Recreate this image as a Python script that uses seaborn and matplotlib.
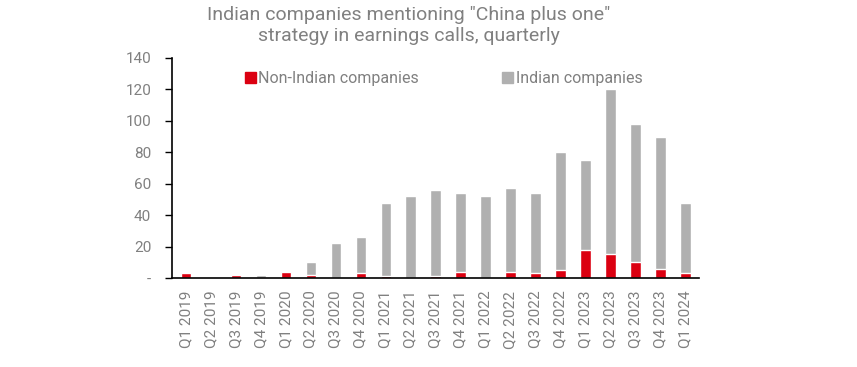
import pandas as pd
import seaborn as sns
import matplotlib.pyplot as plt
import matplotlib.patches as mpatches

quarters = ["Q1 2019", "Q2 2019", "Q3 2019", "Q4 2019",
            "Q1 2020", "Q2 2020", "Q3 2020", "Q4 2020",
            "Q1 2021", "Q2 2021", "Q3 2021", "Q4 2021",
            "Q1 2022", "Q2 2022", "Q3 2022", "Q4 2022",
            "Q1 2023", "Q2 2023", "Q3 2023", "Q4 2023",
            "Q1 2024"]
non_indian = [3, 0, 2, 0, 4, 2, 0, 3, 1, 0, 1, 4, 0, 4, 3, 5, 18, 15, 10, 6, 3]
indian = [0, 0, 0, 2, 0, 8, 22, 23, 47, 52, 55, 50, 52, 53, 51, 75, 57, 105, 88, 84, 45]
y_ticks = [0, 20, 40, 60, 80, 100, 120, 140]
y_labels = ["-", "20", "40", "60", "80", "100", "120", "140"]

RED = "#DB0011"
GREY = "#B0B0B0"
TEXT = "#808080"

df = pd.DataFrame({"quarter": quarters, "non_indian": non_indian, "indian": indian})
df["total"] = df["non_indian"] + df["indian"]

sns.set_style("white")
plt.rcParams["font.family"] = ["Roboto", "DejaVu Sans"]

fig = plt.figure(figsize=(8.57, 3.67), dpi=100)
ax = fig.add_axes([0.2007, 0.2425, 0.6154, 0.5995])

# stacked bars: grey total behind, red non-Indian part at the bottom
sns.barplot(data=df, x="quarter", y="total", color=GREY, width=0.42,
            saturation=1, ax=ax)
sns.barplot(data=df, x="quarter", y="non_indian", color=RED, width=0.42,
            saturation=1, ax=ax)

ax.set_xlim(-0.56, len(quarters) - 0.44)
ax.set_ylim(0, 140)
ax.set_yticks(y_ticks)
ax.set_yticklabels(y_labels)
ax.set_xlabel("")
ax.set_ylabel("")
ax.tick_params(axis="x", rotation=90, length=0, labelsize=11, labelcolor=TEXT, pad=9)
ax.tick_params(axis="y", length=5, width=1, color="black", direction="out",
               labelsize=11, labelcolor=TEXT, pad=10, left=True)

for side in ["top", "right"]:
    ax.spines[side].set_visible(False)
for side in ["left", "bottom"]:
    ax.spines[side].set_color("black")
    ax.spines[side].set_linewidth(1.2)

red_patch = mpatches.Patch(color=RED, label="Non-Indian companies")
grey_patch = mpatches.Patch(color=GREY, label="Indian companies")
ax.legend(handles=[red_patch, grey_patch], loc="upper center",
          bbox_to_anchor=(0.515, 1.005), ncol=2, frameon=False,
          fontsize=11.5, labelcolor=TEXT, handlelength=0.7, handleheight=0.7,
          handletextpad=0.15, columnspacing=5.2)

fig.text(0.477, 0.985, 'Indian companies mentioning "China plus one"\nstrategy in earnings calls, quarterly',
         ha="center", va="top", fontsize=14, color=TEXT, linespacing=1.25)

fig.savefig("out.png", dpi=100)
